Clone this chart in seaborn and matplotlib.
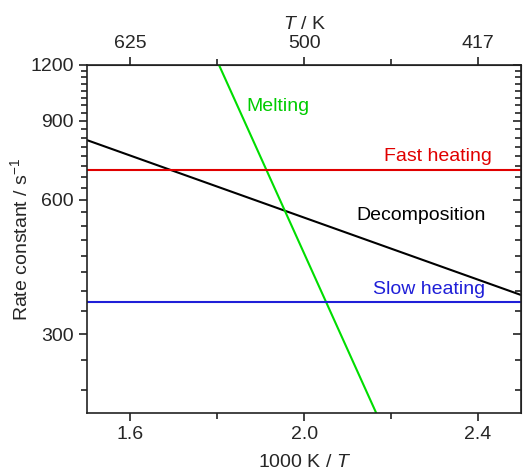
import matplotlib
matplotlib.use("Agg")
import matplotlib.pyplot as plt
import matplotlib.ticker as mticker
import seaborn as sns
import numpy as np
import pandas as pd

# data (x = 1000 K / T, y = rate constant / s^-1)
decomp_x = [1.5, 2.5]
decomp_y = [815, 367]
melt_x = [1.804, 2.166]
melt_y = [1200, 200]
fast_x = [1.5, 2.5]
fast_y = [700, 700]
slow_x = [1.5, 2.5]
slow_y = [355, 355]

x_ticks = [1.6, 2.0, 2.4]
y_ticks = [300, 600, 900, 1200]
top_labels = ["625", "500", "417"]

sns.set_style("ticks")
plt.rcParams['font.family'] = ['Liberation Sans', 'DejaVu Sans']
plt.rcParams['mathtext.fontset'] = 'custom'
plt.rcParams['mathtext.rm'] = 'Liberation Sans'
plt.rcParams['mathtext.it'] = 'Liberation Sans:italic'
plt.rcParams['font.size'] = 14

fig, ax = plt.subplots(figsize=(5.23, 4.70), dpi=100)
fig.subplots_adjust(left=0.166, right=0.997, top=0.862, bottom=0.121)

lines = [
    (decomp_x, decomp_y, "black"),
    (melt_x, melt_y, "#00dd00"),
    (fast_x, fast_y, "#e00000"),
    (slow_x, slow_y, "#1f1fd8"),
]
for xs, ys, c in lines:
    df = pd.DataFrame({"x": xs, "y": ys})
    sns.lineplot(data=df, x="x", y="y", color=c, lw=1.5, ax=ax)

ax.set_yscale("log")
ax.set_xlim(1.5, 2.5)
ax.set_ylim(200, 1200)

ax.text(1.94, 967, "Melting", color="#00cc00", ha="center", va="center", fontsize=14)
ax.text(2.309, 747, "Fast heating", color="#e00000", ha="center", va="center", fontsize=14)
ax.text(2.27, 554, "Decomposition", color="black", ha="center", va="center", fontsize=14)
ax.text(2.288, 377, "Slow heating", color="#1f1fd8", ha="center", va="center", fontsize=14)

ax.set_xticks(x_ticks)
ax.set_xticklabels([f"{v:.1f}" for v in x_ticks])
ax.xaxis.set_minor_locator(mticker.FixedLocator([1.8, 2.2]))
minors = [float(v) for v in np.arange(225, 1200, 37.5) if v not in y_ticks]
ax.set_yticks(y_ticks)
ax.set_yticklabels([str(v) for v in y_ticks])
ax.set_yticks(minors, minor=True)
ax.yaxis.set_minor_formatter(mticker.NullFormatter())

ax.tick_params(which="major", direction="out", length=6, width=1.2, labelsize=14, color="#222222")
ax.tick_params(which="minor", direction="out", length=4, width=1.2, color="#222222")

ax.set_xlabel("1000 K / $\\it{T}$", fontsize=14, labelpad=8)
ax.set_ylabel("Rate constant / s$^{-1}$", fontsize=14, labelpad=-1)

for s in ax.spines.values():
    s.set_visible(True)
    s.set_linewidth(1.2)
    s.set_color("#222222")

top = ax.secondary_xaxis("top", functions=(lambda x: 1000 / x, lambda t: 1000 / t))
top.set_xticks([1000 / v for v in x_ticks])
top.set_xticklabels(top_labels)
top.xaxis.set_minor_locator(mticker.FixedLocator([1000 / 1.8, 1000 / 2.2]))
top.xaxis.set_minor_formatter(mticker.NullFormatter())
top.tick_params(which="major", direction="out", length=6, width=1.2, labelsize=14, color="#222222")
top.tick_params(which="minor", direction="out", length=4, width=1.2, color="#222222")
top.set_xlabel("$\\it{T}$ / K", fontsize=14, labelpad=4)

right = ax.secondary_yaxis("right")
right.set_yticks(y_ticks)
right.set_yticks(minors, minor=True)
right.yaxis.set_major_formatter(mticker.NullFormatter())
right.yaxis.set_minor_formatter(mticker.NullFormatter())
right.tick_params(which="major", direction="in", length=6, width=1.2, color="#222222")
right.tick_params(which="minor", direction="in", length=4, width=1.2, color="#222222")

fig.savefig("out.png", dpi=100)
